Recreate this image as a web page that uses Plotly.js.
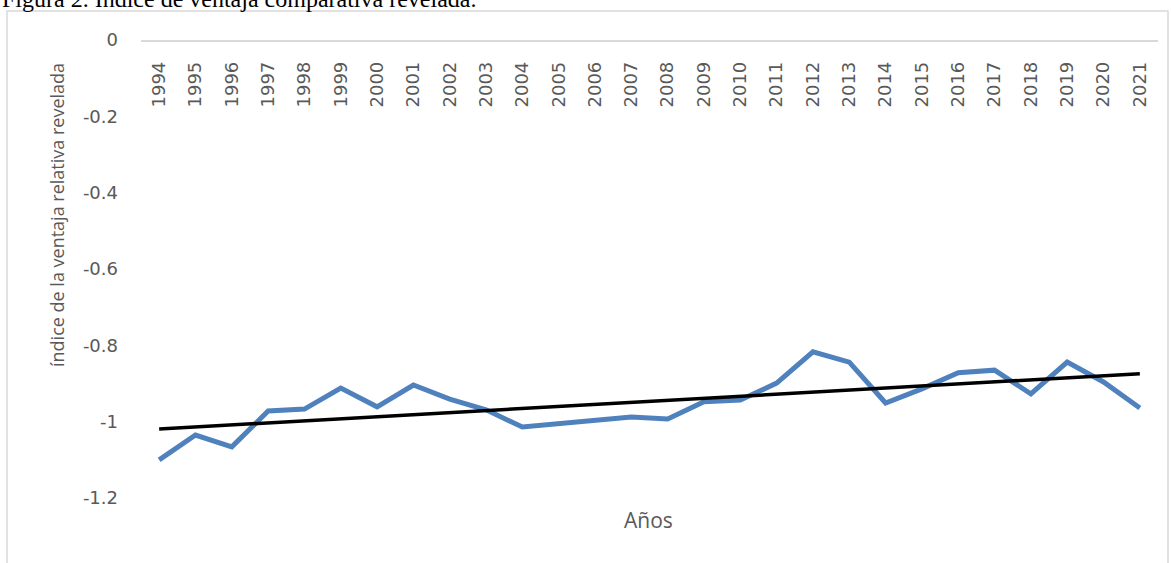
<!DOCTYPE html>
<html>
<head>
<meta charset="utf-8">
<script src="https://cdn.plot.ly/plotly-3.0.1.min.js"></script>
<style>
  html, body { margin: 0; padding: 0; background: #ffffff; }
  #chart { width: 1171px; height: 563px; }
</style>
</head>
<body>
<div id="chart"></div>
<script>
// ---- data ----
const years = ["1994","1995","1996","1997","1998","1999","2000","2001","2002","2003",
               "2004","2005","2006","2007","2008","2009","2010","2011","2012","2013",
               "2014","2015","2016","2017","2018","2019","2020","2021"];
const ivcr = [-1.100,-1.035,-1.066,-0.972,-0.967,-0.912,-0.961,-0.904,-0.941,-0.969,
              -1.014,-1.006,-0.998,-0.988,-0.993,-0.948,-0.943,-0.899,-0.817,-0.844,
              -0.951,-0.914,-0.872,-0.865,-0.927,-0.844,-0.896,-0.964];
const yTickVals = [0,-0.2,-0.4,-0.6,-0.8,-1,-1.2];
const yTickText = ["0","-0.2","-0.4","-0.6","-0.8","-1","-1.2"];
const titleText = "Figura 2. Índice de ventaja comparativa revelada.";
const yTitleText = "índice de la ventaja relativa revelada";
const xTitleText = "Años";

// linear trend line (least squares over the series, as the spreadsheet does)
const n = ivcr.length;
const idx = ivcr.map((_, i) => i + 1);
const mx = idx.reduce((a, b) => a + b, 0) / n;
const my = ivcr.reduce((a, b) => a + b, 0) / n;
let sxy = 0, sxx = 0;
for (let i = 0; i < n; i++) { sxy += (idx[i] - mx) * (ivcr[i] - my); sxx += (idx[i] - mx) ** 2; }
const slope = sxy / sxx;
const intercept = my - slope * mx;
const trend = idx.map(x => intercept + slope * x);

// ---- layout geometry (pixels) ----
const W = 1171, H = 563;
const L = 141, R = 1158, T = 40, B = 498;
const px = x => (x - L) / (R - L);
const py = y => (B - y) / (B - T);

const gray = "#595959";

const traces = [
  { type: "scatter", mode: "lines", x: years, y: ivcr,
    line: { color: "#4f81bd", width: 5 }, hoverinfo: "x+y", cliponaxis: false },
  { type: "scatter", mode: "lines", x: years, y: trend,
    line: { color: "#000000", width: 3.5 }, hoverinfo: "skip", cliponaxis: false }
];

const layout = {
  width: W, height: H,
  margin: { l: L, r: W - R, t: T, b: H - B, pad: 0 },
  paper_bgcolor: "#ffffff", plot_bgcolor: "#ffffff",
  showlegend: false,
  font: { family: "DejaVu Sans", color: gray, size: 18 },
  xaxis: {
    type: "category", range: [-0.5, 27.5],
    anchor: "free", position: 1, side: "bottom",
    showline: true, linecolor: "#d9d9d9", linewidth: 1.5,
    showgrid: false, zeroline: false, ticks: "",
    tickangle: -90, ticklabelstandoff: 13,
    tickfont: { family: "DejaVu Sans", size: 18, color: gray },
    fixedrange: true
  },
  yaxis: {
    range: [-1.2, 0], tickvals: yTickVals, ticktext: yTickText,
    showline: false, showgrid: false, zeroline: false, ticks: "",
    ticklabelstandoff: 22,
    tickfont: { family: "DejaVu Sans", size: 18, color: gray },
    fixedrange: true
  },
  shapes: [
    { type: "rect", xref: "paper", yref: "paper",
      x0: px(7), x1: px(1168), y0: py(575), y1: py(11),
      line: { color: "#d9d9d9", width: 1.5 }, fillcolor: "rgba(0,0,0,0)", layer: "below" }
  ],
  annotations: [
    { text: titleText, xref: "paper", yref: "paper", x: px(0), y: py(-1),
      xanchor: "left", yanchor: "middle", showarrow: false,
      font: { family: "Liberation Serif", size: 24, color: "#000000" } },
    { text: yTitleText, xref: "paper", yref: "paper", x: px(57), y: py(215),
      xanchor: "center", yanchor: "middle", textangle: -90, showarrow: false,
      font: { family: "Open Sans", size: 18, color: gray } },
    { text: xTitleText, xref: "paper", yref: "paper", x: px(648), y: py(520),
      xanchor: "center", yanchor: "middle", showarrow: false,
      font: { family: "Open Sans", size: 21, color: gray } }
  ]
};

Plotly.newPlot("chart", traces, layout, { displayModeBar: false, staticPlot: true });
</script>
</body>
</html>
